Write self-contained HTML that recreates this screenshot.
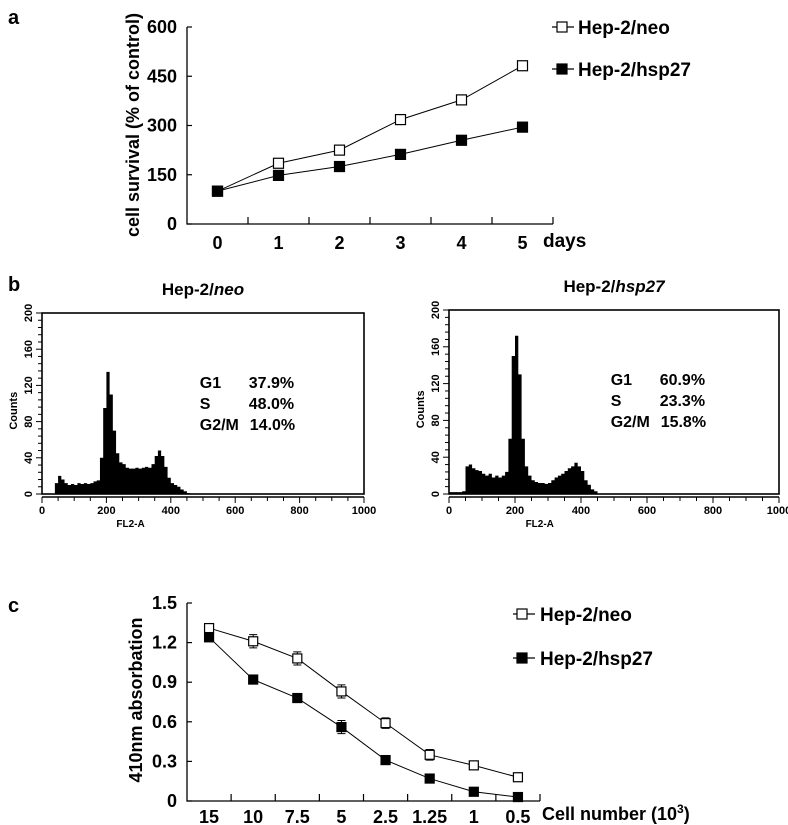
<!DOCTYPE html>
<html><head><meta charset="utf-8"><style>
html,body{margin:0;padding:0;background:#fff;}
svg{display:block;}
text{font-family:"Liberation Sans Narrow","Liberation Sans",sans-serif;font-weight:bold;fill:#000;}
</style></head><body>
<svg id="fig" width="788" height="825" viewBox="0 0 788 825" xmlns="http://www.w3.org/2000/svg">
<text x="8" y="24" font-size="20" font-family="Liberation Sans">a</text>
<text x="8" y="291" font-size="20" font-family="Liberation Sans">b</text>
<text x="8" y="612" font-size="20" font-family="Liberation Sans">c</text>
<g id="pa"></g>
<g id="pb"></g>
<g id="pc"></g>
</svg>
<script>
// Panel a data
const aDays = ["0","1","2","3","4","5"];
const aNeo = [100,185,225,318,378,482];
const aHsp = [100,148,175,212,255,295];
const aTicks = [0,150,300,450,600];
// Panel c data
const cCats = ["15","10","7.5","5","2.5","1.25","1","0.5"];
const cNeo = [1.31,1.21,1.08,0.83,0.59,0.35,0.27,0.18];
const cNeoErr = [0.02,0.05,0.05,0.05,0.04,0.04,0.02,0.02];
const cHsp = [1.24,0.92,0.78,0.56,0.31,0.17,0.07,0.03];
const cHspErr = [0.03,0.02,0.03,0.05,0.02,0.02,0.02,0.02];
const cTicks = ["0","0.3","0.6","0.9","1.2","1.5"];
// Panel b histogram data: counts per 10-unit bin starting at 0
const bNeo = [0,0,0,0,12,20,16,12,10,11,10,12,11,12,11,12,14,15,40,95,135,110,70,45,35,33,29,28,28,29,28,29,30,29,33,42,48,42,30,18,12,10,8,5,3,1,0];
const bHsp = [2,2,2,2,3,30,32,28,26,25,22,20,22,18,20,18,20,24,60,150,172,130,60,30,20,15,13,12,12,11,12,15,18,20,22,25,28,30,34,30,25,15,10,5,3,0];
const bXTicks = [0,200,400,600,800,1000];
const bYTicks = [0,40,80,120,160,200];

const NS="http://www.w3.org/2000/svg";
function mk(parent,tag,attrs,txt){const e=document.createElementNS(NS,tag);for(const k in attrs)e.setAttribute(k,attrs[k]);if(txt!==undefined)e.textContent=txt;parent.appendChild(e);return e;}

// ---------- Panel a ----------
(function(){
const g=document.getElementById('pa');
const x0=187,x1=553,yTop=27,yBot=224;
const band=(x1-x0)/aDays.length;
const xs=i=>x0+band*(i+0.5);
const ys=v=>yBot-(v/600)*(yBot-yTop);
let ax=mk(g,'path',{d:`M${x0},${yTop} V${yBot} H${x1}`,stroke:'#000','stroke-width':1.3,fill:'none'});


for(let i=1;i<=aDays.length;i++){const t=mk(g,'line',{x1:x0+band*i,x2:x0+band*i,y1:yBot,y2:yBot-7,stroke:'#000','stroke-width':1.2});

}
aTicks.forEach(v=>{const t=mk(g,'line',{x1:x0,x2:x0+5,y1:ys(v),y2:ys(v),stroke:'#000','stroke-width':1.2});


const l=mk(g,'text',{x:x0-10,y:ys(v)+6,'font-size':18,'text-anchor':'end'},String(v));

});
aDays.forEach((d,i)=>{const l=mk(g,'text',{x:xs(i),y:249,'font-size':18,'text-anchor':'middle'},d);

});
let dl=mk(g,'text',{x:543,y:247,'font-size':19},'days');


let yt=mk(g,'text',{x:0,y:0,'font-size':18,'font-family':'Liberation Sans','text-anchor':'middle',transform:'translate(139,125) rotate(-90)'},'cell survival (% of control)');


function series(vals,fill,name){
 const pts=vals.map((v,i)=>`${xs(i)},${ys(v)}`).join(' ');
 const p=mk(g,'polyline',{points:pts,fill:'none',stroke:'#000','stroke-width':1});
 
 
 vals.forEach((v,i)=>{const r=mk(g,'rect',{x:xs(i)-5,y:ys(v)-5,width:10,height:10,fill:fill,stroke:'#000','stroke-width':1.2});
 
 });
}
series(aNeo,'#fff','neo');
series(aHsp,'#000','hsp27');
function leg(y,fill,label,name){const lg=mk(g,'g',{});


mk(lg,'line',{x1:552,x2:574,y1:y,y2:y,stroke:'#000','stroke-width':1.2});
mk(lg,'rect',{x:557,y:y-5,width:10,height:10,fill:fill,stroke:'#000','stroke-width':1.2});
mk(lg,'text',{x:578,y:y+7,'font-size':19},label);}
leg(27,'#fff','Hep-2/neo','legend-entry-neo');
leg(69,'#000','Hep-2/hsp27','legend-entry-hsp27');
})();

// ---------- Panel b ----------
(function(){
const g=document.getElementById('pb');
function hist(bx0,bx1,byTop,byBot,data,title,italic,stats,name){
 const hg=mk(g,'g',{});
 
 
 const xs=v=>bx0+(v/1000)*(bx1-bx0);
 const ys=v=>byBot-(v/200)*(byBot-byTop);
 // histogram
 let d=`M${xs(0)},${ys(0)}`;
 data.forEach((c,i)=>{d+=` L${xs(i*10)},${ys(c)} L${xs(i*10+10)},${ys(c)}`;});
 d+=` L${xs(data.length*10)},${ys(0)} Z`;
 const h=mk(hg,'path',{d:d,fill:'#000',stroke:'none'});
 
 
 const bx=mk(hg,'rect',{x:bx0,y:byTop,width:bx1-bx0,height:byBot-byTop,fill:'none',stroke:'#000','stroke-width':1.6});
 
 
 mk(hg,'line',{x1:bx0,x2:bx1,y1:byBot+3,y2:byBot+3,stroke:'#000','stroke-width':1.5});
 for(let v=0;v<=1000;v+=50){mk(hg,'line',{x1:xs(v),x2:xs(v),y1:byBot+3,y2:byBot+(v%200===0?9:7),stroke:'#000','stroke-width':1});}
 for(let v=0;v<=200;v+=8){mk(hg,'line',{x1:bx0-(v%40===0?6:4),x2:bx0,y1:ys(v),y2:ys(v),stroke:'#000','stroke-width':1});}
 bXTicks.forEach(v=>{const l=mk(hg,'text',{x:xs(v),y:byBot+20,'font-size':11,'font-weight':'normal','font-family':'Liberation Sans','text-anchor':'middle'},String(v));
 
 });
 bYTicks.forEach(v=>{const l=mk(hg,'text',{x:0,y:0,'font-size':11,'font-family':'Liberation Sans','text-anchor':'middle',transform:`translate(${bx0-10},${ys(v)}) rotate(-90)`},String(v));
 
 });
 const xl=mk(hg,'text',{x:xs(275),y:byBot+33,'font-size':10,'font-family':'Liberation Sans','text-anchor':'middle'},'FL2-A');
 
 
 const yl=mk(hg,'text',{x:0,y:0,'font-size':11,'font-family':'Liberation Sans','text-anchor':'middle',transform:`translate(${bx0-25},${ys(92)}) rotate(-90)`},'Counts');
 
 
 const t=mk(hg,'text',{x:(bx0+bx1)/2,y:byTop-18,'font-size':17,'font-family':'Liberation Sans','text-anchor':'middle'});
 
 
 mk(t,'tspan',{},'Hep-2/');mk(t,'tspan',{'font-style':'italic'},italic);
 const sx=bx0+(bx1-bx0)*0.49;
 stats.forEach((s,i)=>{const r=mk(hg,'text',{x:sx,y:byTop+75+i*21,'font-size':16,'font-family':'Liberation Sans'});
 
 
 mk(r,'tspan',{},s[0]);mk(r,'tspan',{x:sx+(i==2?50:49)},s[1]);});
}
hist(42,364,313,494,bNeo,'','neo',[['G1','37.9%'],['S','48.0%'],['G2/M','14.0%']],'histogram-neo');
hist(449,779,310,494,bHsp,'','hsp27',[['G1','60.9%'],['S','23.3%'],['G2/M','15.8%']],'histogram-hsp27');
})();

// ---------- Panel c ----------
(function(){
const g=document.getElementById('pc');
const x0=187,x1=540,yTop=603,yBot=801;
const band=(x1-x0)/cCats.length;
const xs=i=>x0+band*(i+0.5);
const ys=v=>yBot-(v/1.5)*(yBot-yTop);
const ax=mk(g,'path',{d:`M${x0},${yTop} V${yBot} H${x1}`,stroke:'#000','stroke-width':1.3,fill:'none'});


for(let i=1;i<=cCats.length;i++){const t=mk(g,'line',{x1:x0+band*i,x2:x0+band*i,y1:yBot,y2:yBot-7,stroke:'#000','stroke-width':1.2});

}
cTicks.forEach(s=>{const v=parseFloat(s);const t=mk(g,'line',{x1:x0,x2:x0+5,y1:ys(v),y2:ys(v),stroke:'#000','stroke-width':1.2});


const l=mk(g,'text',{x:x0-10,y:ys(v)+6,'font-size':18,'text-anchor':'end'},s);

});
cCats.forEach((c,i)=>{const l=mk(g,'text',{x:xs(i),y:823,'font-size':18,'text-anchor':'middle'},c);

});
const xt=mk(g,'text',{x:542,y:820,'font-size':18});


mk(xt,'tspan',{},'Cell number (10');mk(xt,'tspan',{dy:-7,'font-size':12},'3');mk(xt,'tspan',{dy:7},')');
const yt=mk(g,'text',{x:0,y:0,'font-size':18,'font-family':'Liberation Sans','text-anchor':'middle',transform:'translate(142,700) rotate(-90)'},'410nm absorbation');


function series(vals,errs,fill,name){
 const p=mk(g,'polyline',{points:vals.map((v,i)=>`${xs(i)},${ys(v)}`).join(' '),fill:'none',stroke:'#000','stroke-width':1});
 
 
 vals.forEach((v,i)=>{
  const e=mk(g,'path',{d:`M${xs(i)},${ys(v+errs[i])} V${ys(v-errs[i])} M${xs(i)-4},${ys(v+errs[i])} h8 M${xs(i)-4},${ys(v-errs[i])} h8`,stroke:'#000','stroke-width':1,fill:'none'});
  
  
  const r=mk(g,'rect',{x:xs(i)-4.5,y:ys(v)-4.5,width:9,height:9,fill:fill,stroke:'#000','stroke-width':1.2});
  
  });
}
series(cNeo,cNeoErr,'#fff','neo');
series(cHsp,cHspErr,'#000','hsp27');
function leg(y,fill,label,name){const lg=mk(g,'g',{});


mk(lg,'line',{x1:513,x2:535,y1:y,y2:y,stroke:'#000','stroke-width':1.2});
mk(lg,'rect',{x:517,y:y-5,width:10,height:10,fill:fill,stroke:'#000','stroke-width':1.2});
mk(lg,'text',{x:540,y:y+7,'font-size':19},label);}
leg(614,'#fff','Hep-2/neo','legend-entry-neo');
leg(658,'#000','Hep-2/hsp27','legend-entry-hsp27');
})();
</script>
</body></html>
